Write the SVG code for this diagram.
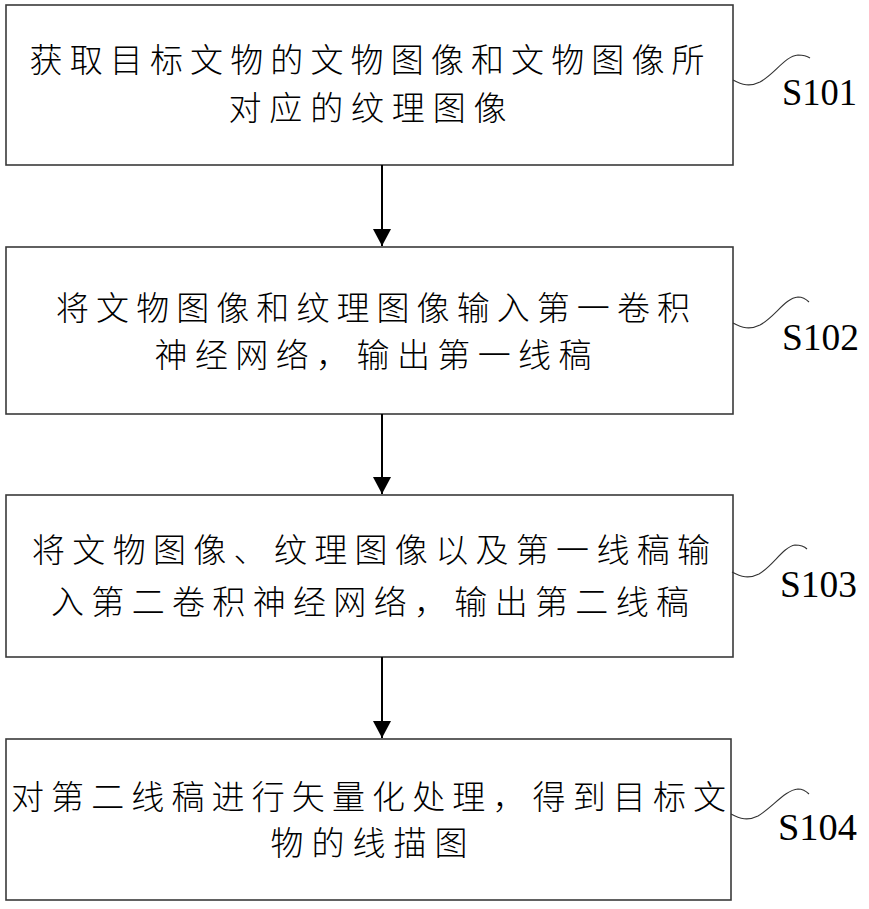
<svg xmlns="http://www.w3.org/2000/svg" width="869" height="909" viewBox="0 0 869 909">
<style>
.box{fill:#fff;stroke:#3a3a3a;stroke-width:1.6}
.t{font-family:"Noto Sans CJK SC","Noto Sans CJK JP",sans-serif;font-size:33px;font-weight:300;fill:#000;text-anchor:middle}
.lbl{font-family:"Liberation Serif","Times New Roman",serif;font-size:38px;fill:#000}
.sq{fill:none;stroke:#333;stroke-width:1.1}
.ar{stroke:#000;stroke-width:2;fill:none}
</style>
<defs>
<marker id="ah" markerUnits="userSpaceOnUse" markerWidth="18" markerHeight="19" refX="17" refY="9" orient="auto">
<path d="M0,0 L17,9 L0,18 Z" fill="#000"/>
</marker>
</defs>
<rect width="869" height="909" fill="#fff"/>
<g id="S101">
<rect class="box" x="6" y="5" width="727" height="160"/>
<text class="t" x="367" y="71.5" textLength="675" lengthAdjust="spacing">获取目标文物的文物图像和文物图像所</text>
<text class="t" x="367.5" y="119.5" textLength="278" lengthAdjust="spacing">对应的纹理图像</text>
<path class="sq" d="M733,80 C742,85 750,87 760,82 C775,74 785,56 798,55 C803,55 807,56 810,58"/>
<text class="lbl" x="782" y="105" textLength="75" lengthAdjust="spacingAndGlyphs">S101</text>
</g>
<g id="S102">
<rect class="box" x="6" y="247" width="727" height="167"/>
<text class="t" x="373" y="319.5" textLength="634" lengthAdjust="spacing">将文物图像和纹理图像输入第一卷积</text>
<text class="t" x="373" y="366.5" textLength="437" lengthAdjust="spacing">神经网络，输出第一线稿</text>
<path class="sq" d="M733,323 C742,328 750,330 760,325 C775,317 785,298 798,297 C803,297 806,299 809,302"/>
<text class="lbl" x="782" y="350" textLength="77" lengthAdjust="spacingAndGlyphs">S102</text>
</g>
<g id="S103">
<rect class="box" x="6" y="495" width="727" height="162"/>
<text class="t" x="371" y="561.5" textLength="678" lengthAdjust="spacing">将文物图像、纹理图像以及第一线稿输</text>
<text class="t" x="370" y="613.5" textLength="638" lengthAdjust="spacing">入第二卷积神经网络，输出第二线稿</text>
<path class="sq" d="M732,572 C741,577 749,579 759,574 C773,566 783,547 795,545 C800,545 804,546 807,549"/>
<text class="lbl" x="780" y="597" textLength="77" lengthAdjust="spacingAndGlyphs">S103</text>
</g>
<g id="S104">
<rect class="box" x="6" y="739" width="725" height="161"/>
<text class="t" x="368.5" y="808.5" textLength="715" lengthAdjust="spacing">对第二线稿进行矢量化处理，得到目标文</text>
<text class="t" x="369" y="855" textLength="197" lengthAdjust="spacing">物的线描图</text>
<path class="sq" d="M731,814 C740,819 748,821 758,816 C773,807 785,790 798,789 C803,789 806,791 809,794"/>
<text class="lbl" x="778" y="840" textLength="79" lengthAdjust="spacingAndGlyphs">S104</text>
</g>
<g id="connectors">
<line class="ar" x1="382" y1="165" x2="382" y2="246" marker-end="url(#ah)"/>
<line class="ar" x1="382" y1="414" x2="382" y2="494" marker-end="url(#ah)"/>
<line class="ar" x1="382" y1="657" x2="382" y2="738" marker-end="url(#ah)"/>
</g>
</svg>
